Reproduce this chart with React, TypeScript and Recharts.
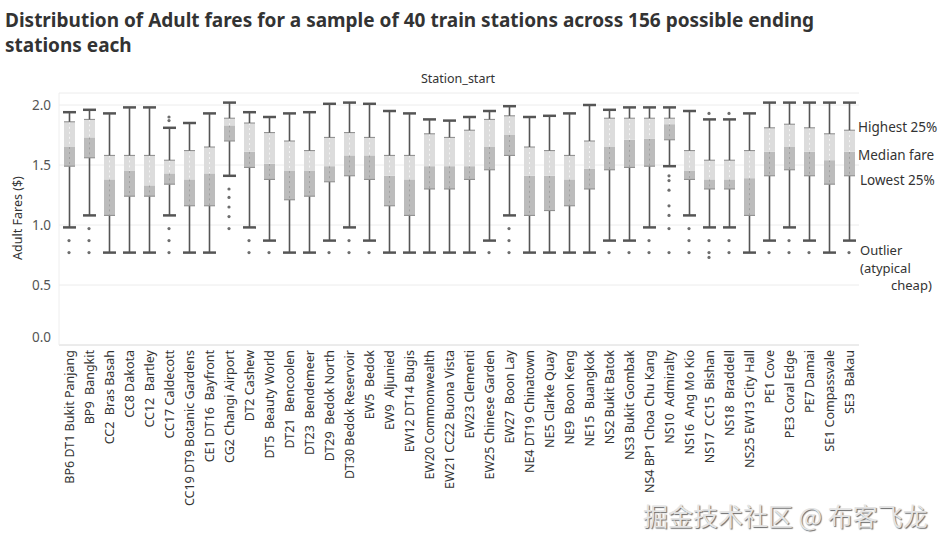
import React from 'react';
import { ComposedChart, Bar, Scatter, XAxis, YAxis, CartesianGrid } from 'recharts';

const stations = [
  'BP6 DT1 Bukit Panjang', 'BP9  Bangkit', 'CC2  Bras Basah', 'CC8 Dakota', 'CC12  Bartley',
  'CC17 Caldecott', 'CC19 DT9 Botanic Gardens', 'CE1 DT16  Bayfront', 'CG2 Changi Airport', 'DT2 Cashew',
  'DT5  Beauty World', 'DT21  Bencoolen', 'DT23  Bendemeer', 'DT29  Bedok North', 'DT30 Bedok Reservoir',
  'EW5  Bedok', 'EW9  Aljunied', 'EW12 DT14 Bugis', 'EW20 Commonwealth', 'EW21 CC22 Buona Vista',
  'EW23 Clementi', 'EW25 Chinese Garden', 'EW27  Boon Lay', 'NE4 DT19 Chinatown', 'NE5 Clarke Quay',
  'NE9  Boon Keng', 'NE15  Buangkok', 'NS2 Bukit Batok', 'NS3 Bukit Gombak', 'NS4 BP1 Choa Chu Kang',
  'NS10  Admiralty', 'NS16  Ang Mo Kio', 'NS17  CC15  Bishan', 'NS18  Braddell', 'NS25 EW13 City Hall',
  'PE1 Cove', 'PE3 Coral Edge', 'PE7 Damai', 'SE1 Compassvale', 'SE3  Bakau',
];

const whiskerLow = [
  0.98, 1.08, 0.77, 0.77, 0.77, 1.08, 0.77, 0.77, 1.41, 0.98,
  0.87, 0.77, 0.77, 0.87, 0.98, 0.87, 0.77, 0.77, 0.77, 0.77,
  0.77, 0.87, 1.08, 0.77, 0.77, 0.77, 0.77, 0.87, 0.87, 0.98,
  1.49, 1.08, 0.98, 0.98, 0.77, 0.87, 0.98, 0.87, 0.77, 0.87,
];
const q1 = [
  1.49, 1.56, 1.08, 1.24, 1.24, 1.34, 1.16, 1.16, 1.70, 1.48,
  1.38, 1.21, 1.24, 1.36, 1.41, 1.38, 1.16, 1.08, 1.30, 1.30,
  1.38, 1.46, 1.58, 1.08, 1.12, 1.16, 1.30, 1.46, 1.48, 1.49,
  1.71, 1.38, 1.30, 1.30, 1.08, 1.41, 1.46, 1.41, 1.34, 1.41,
];
const median = [
  1.65, 1.73, 1.38, 1.45, 1.33, 1.43, 1.38, 1.43, 1.83, 1.61,
  1.51, 1.45, 1.45, 1.49, 1.58, 1.58, 1.41, 1.38, 1.49, 1.49,
  1.49, 1.65, 1.75, 1.41, 1.41, 1.38, 1.47, 1.65, 1.71, 1.72,
  1.84, 1.45, 1.38, 1.38, 1.39, 1.61, 1.65, 1.61, 1.54, 1.61,
];
const q3 = [
  1.86, 1.88, 1.58, 1.58, 1.58, 1.54, 1.62, 1.65, 1.89, 1.85,
  1.77, 1.70, 1.62, 1.73, 1.77, 1.73, 1.58, 1.58, 1.76, 1.73,
  1.79, 1.88, 1.91, 1.65, 1.62, 1.58, 1.70, 1.89, 1.89, 1.89,
  1.89, 1.62, 1.54, 1.54, 1.62, 1.81, 1.84, 1.81, 1.76, 1.79,
];
const whiskerHigh = [
  1.94, 1.96, 1.93, 1.98, 1.98, 1.81, 1.85, 1.93, 2.02, 1.94,
  1.90, 1.93, 1.94, 2.01, 2.02, 2.01, 1.95, 1.93, 1.88, 1.87,
  1.90, 1.95, 1.99, 1.90, 1.91, 1.93, 2.00, 1.96, 1.98, 1.98,
  1.98, 1.95, 1.88, 1.88, 1.93, 2.02, 2.02, 2.02, 2.02, 2.02,
];
const outliers = [
  [0.87, 0.77], [0.97, 0.87, 0.77], [], [], [],
  [1.90, 1.87, 0.97, 0.87, 0.77], [], [], [1.30, 1.23, 1.15, 1.07, 0.97], [0.87, 0.77],
  [0.77], [], [], [0.77], [0.87, 0.77],
  [0.77], [], [], [], [],
  [], [0.77], [0.97, 0.87, 0.77], [], [],
  [], [], [0.77], [0.77], [0.87, 0.77],
  [1.41, 1.37, 1.29, 1.16, 1.08, 0.97, 0.77], [0.97, 0.87, 0.77], [1.93, 0.87, 0.77, 0.73], [1.93, 0.87, 0.77], [],
  [0.77], [0.87, 0.77], [0.77], [], [0.77],
];
const yTicks = [0, 0.5, 1, 1.5, 2];

const data = stations.map((name, i) => ({
  name,
  base: whiskerLow[i],
  lowWhisker: q1[i] - whiskerLow[i],
  lowerBox: median[i] - q1[i],
  upperBox: q3[i] - median[i],
  highWhisker: whiskerHigh[i] - q3[i],
}));

const outlierPoints = stations.flatMap((name, i) => outliers[i].map((v) => ({ name, v })));

const WHISKER = '#555555';
const font = '"Noto Sans", sans-serif';

const LowWhiskerShape = (props: any) => {
  const { x, y, width, height } = props;
  const cx = x + width / 2;
  return (
    <g>
      <line x1={cx} x2={cx} y1={y} y2={y + height} stroke={WHISKER} strokeWidth={1.6} />
      <line x1={cx - 6.5} x2={cx + 6.5} y1={y + height} y2={y + height} stroke={WHISKER} strokeWidth={2.5} />
    </g>
  );
};

const HighWhiskerShape = (props: any) => {
  const { x, y, width, height } = props;
  const cx = x + width / 2;
  return (
    <g>
      <line x1={cx} x2={cx} y1={y} y2={y + height} stroke={WHISKER} strokeWidth={1.6} />
      <line x1={cx - 6.5} x2={cx + 6.5} y1={y} y2={y} stroke={WHISKER} strokeWidth={2.5} />
    </g>
  );
};

const LowerBoxShape = (props: any) => {
  const { x, y, width, height } = props;
  return (
    <g>
      <rect x={x} y={y} width={width} height={height} fill="#bcbcbc" />
      <line x1={x + width / 2} x2={x + width / 2} y1={y} y2={y + height} stroke="#a0a0a0" strokeWidth={1} strokeDasharray="2 3" />
      <line x1={x} x2={x + width} y1={y + height} y2={y + height} stroke="#8a8a8a" strokeWidth={1} />
    </g>
  );
};

const UpperBoxShape = (props: any) => {
  const { x, y, width, height } = props;
  return (
    <g>
      <rect x={x} y={y} width={width} height={height} fill="#dcdcdc" />
      <line x1={x + width / 2} x2={x + width / 2} y1={y} y2={y + height} stroke="#f4f4f4" strokeWidth={1} strokeDasharray="2 3" />
      <line x1={x} x2={x + width} y1={y} y2={y} stroke="#8a8a8a" strokeWidth={1} />
    </g>
  );
};

const StationTick = (props: any) => {
  const { x, y, payload } = props;
  return (
    <text
      x={x}
      y={y}
      transform={`rotate(-90 ${x} ${y})`}
      textAnchor="end"
      dominantBaseline="central"
      fontSize={12.5}
      fontFamily={font}
      fill="#333"
      style={{ whiteSpace: 'pre' }}
    >
      {payload.value}
    </text>
  );
};

const FareTick = (props: any) => {
  const { x, y, payload } = props;
  return (
    <text x={x} y={payload.value === 0 ? y - 8 : y} textAnchor="end" dominantBaseline="central" fontSize={13.5} fontFamily={font} fill="#555">
      {payload.value.toFixed(1)}
    </text>
  );
};

const note: React.CSSProperties = { position: 'absolute', fontFamily: font, fontSize: 13.5, color: '#333', lineHeight: '16px', whiteSpace: 'nowrap' };

export default function App() {
  return (
    <div style={{ position: 'absolute', left: 0, top: 0, width: 946, height: 544, background: '#fff', overflow: 'hidden' }}>
      <div style={{ position: 'absolute', left: 5, top: 8, fontFamily: font, fontWeight: 700, fontSize: 19, lineHeight: '25px', color: '#333', whiteSpace: 'nowrap' }}>
        Distribution of Adult fares for a sample of 40 train stations across 156 possible ending
        <br />
        stations each
      </div>
      <div style={{ position: 'absolute', left: 408, width: 100, top: 70, textAlign: 'center', fontFamily: font, fontSize: 12.5, color: '#333' }}>
        Station_start
      </div>
      <div style={{ position: 'absolute', left: 17, top: 218, transform: 'translate(-50%, -50%) rotate(-90deg)', fontFamily: font, fontSize: 12.5, color: '#333', whiteSpace: 'nowrap' }}>
        Adult Fares ($)
      </div>
      <ComposedChart width={946} height={544} data={data} margin={{ top: 93, right: 87, bottom: 9, left: 9 }}>
        <CartesianGrid vertical={false} stroke="#ececec" />
        <XAxis
          dataKey="name"
          type="category"
          allowDuplicatedCategory={false}
          interval={0}
          tick={<StationTick />}
          tickLine={false}
          tickSize={0}
          tickMargin={5}
          axisLine={{ stroke: '#e2e2e2' }}
          height={190}
        />
        <YAxis
          type="number"
          domain={[0, 2.1]}
          ticks={yTicks}
          tick={<FareTick />}
          tickLine={false}
          tickSize={0}
          tickMargin={8}
          axisLine={{ stroke: '#eeeeee' }}
          width={50}
        />
        <Bar dataKey="base" stackId="box" barSize={11} fill="transparent" isAnimationActive={false} />
        <Bar dataKey="lowWhisker" stackId="box" barSize={11} shape={<LowWhiskerShape />} isAnimationActive={false} />
        <Bar dataKey="lowerBox" stackId="box" barSize={11} shape={<LowerBoxShape />} isAnimationActive={false} />
        <Bar dataKey="upperBox" stackId="box" barSize={11} shape={<UpperBoxShape />} isAnimationActive={false} />
        <Bar dataKey="highWhisker" stackId="box" barSize={11} shape={<HighWhiskerShape />} isAnimationActive={false} />
        <Scatter
          data={outlierPoints}
          dataKey="v"
          fill="#6e6e6e"
          shape={(p: any) => <circle cx={p.cx} cy={p.cy} r={1.6} fill="#6e6e6e" />}
          isAnimationActive={false}
        />
      </ComposedChart>
      <div style={{ ...note, left: 858, top: 119 }}>Highest 25%</div>
      <div style={{ ...note, left: 858, top: 147 }}>Median fare</div>
      <div style={{ ...note, left: 860, top: 172 }}>Lowest 25%</div>
      <div style={{ ...note, left: 860, top: 242, fontSize: 13, lineHeight: '17.5px' }}>
        Outlier
        <br />
        (atypical
        <br />
        <span style={{ paddingLeft: 31 }}>cheap)</span>
      </div>
      <div
        style={{
          position: 'absolute',
          left: 643,
          top: 497,
          fontFamily: '"Noto Sans CJK SC", sans-serif',
          fontSize: 25,
          color: '#e4e4e4',
          textShadow: '1px 1px 1px #6a6a6a',
          whiteSpace: 'nowrap',
        }}
      >
        掘金技术社区 @ 布客飞龙
      </div>
    </div>
  );
}
